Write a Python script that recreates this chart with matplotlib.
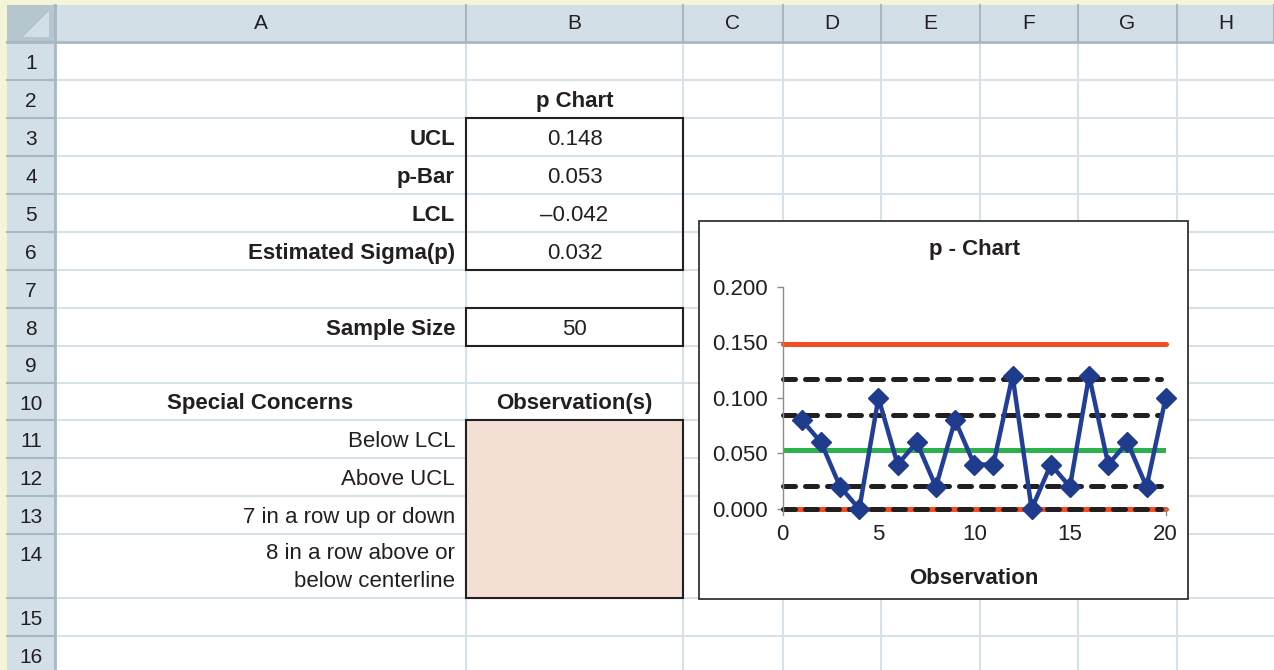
import numpy as np
import matplotlib.pyplot as plt
from matplotlib.patches import Rectangle, Polygon

plt.rcParams['font.family'] = ['Liberation Sans', 'DejaVu Sans']

# fraction defective for each observation (sample size 50)
obs = np.arange(1, 21)
p_obs = [0.08, 0.06, 0.02, 0.00, 0.10, 0.04, 0.06, 0.02, 0.08, 0.04,
         0.04, 0.12, 0.00, 0.04, 0.02, 0.12, 0.04, 0.06, 0.02, 0.10]

ucl = 0.148
p_bar = 0.053
lcl = -0.042
sigma_p = 0.032
sample_size = 50

col_letters = ['A', 'B', 'C', 'D', 'E', 'F', 'G', 'H']
row_numbers = [str(i) for i in range(1, 17)]

stat_labels = ['UCL', 'p-Bar', 'LCL', 'Estimated Sigma(p)']
stat_values = [ucl, p_bar, lcl, sigma_p]
concern_labels = ['Below LCL', 'Above UCL', '7 in a row up or down',
                  '8 in a row above or\nbelow centerline']

# sheet geometry in pixels
W, H = 1274, 670
col_edges = [55, 466, 683, 783, 881, 980, 1078, 1177, 1274]
row_edges = [42, 80, 118, 156, 194, 232, 270, 308, 346, 383, 420, 458,
             496, 534, 598, 636, 674]

HEAD_BG = '#d3dfe7'
HEAD_LINE = '#a8b8c3'
GRID = '#d6e2ea'
INK = '#231f20'

fig = plt.figure(figsize=(W / 100, H / 100), dpi=100)
fig.patch.set_facecolor('#f4f4d8')
bg = fig.add_axes([0, 0, 1, 1])
bg.set_xlim(0, W)
bg.set_ylim(H, 0)
bg.axis('off')

# cells and headers
bg.add_patch(Rectangle((55, 42), W - 55, H - 42, fc='white', ec='none'))
bg.add_patch(Rectangle((7, 5), W - 7, 37, fc=HEAD_BG, ec='none'))
bg.add_patch(Rectangle((7, 42), 48, H - 42, fc=HEAD_BG, ec='none'))
bg.add_patch(Rectangle((7, 5), 48, 37, fc='#b6c6cf', ec='none'))
bg.add_patch(Polygon([(49, 11), (49, 37), (23, 37)], fc=HEAD_BG, ec='none'))

for x in col_edges[1:-1]:
    bg.plot([x, x], [42, H], color=GRID, lw=1.5)
for y in row_edges:
    bg.plot([55, W], [y, y], color=GRID, lw=1.5)
for x in col_edges:
    bg.plot([x, x], [5, 42], color=HEAD_LINE, lw=1.5)
for y in row_edges:
    bg.plot([7, 55], [y, y], color=HEAD_LINE, lw=1.5)
bg.plot([7, W], [42, 42], color=HEAD_LINE, lw=2)
bg.plot([55, 55], [5, H], color=HEAD_LINE, lw=2)

for i, letter in enumerate(col_letters):
    xc = (col_edges[i] + col_edges[i + 1]) / 2
    bg.text(xc, 29, letter, ha='center', va='baseline', fontsize=15, color=INK)
for i, num in enumerate(row_numbers):
    top = row_edges[i]
    yb = min(top + 27, (top + row_edges[i + 1]) / 2 + 8)
    bg.text(31, yb, num, ha='center', va='baseline', fontsize=15, color=INK)

# bordered blocks in column B
bg.add_patch(Rectangle((466, 118), 217, 152, fill=False, ec=INK, lw=1.5, zorder=3))
bg.add_patch(Rectangle((466, 308), 217, 38, fill=False, ec=INK, lw=1.5, zorder=3))
bg.add_patch(Rectangle((466, 420), 217, 178, fc='#f3dfd4', ec=INK, lw=1.5, zorder=3))


def row_base(r):
    return (row_edges[r - 1] + row_edges[r]) / 2 + 8


xa_right = 455
xb_mid = (466 + 683) / 2
bg.text(xb_mid, row_base(2), 'p Chart', ha='center', va='baseline',
        fontsize=16, fontweight='bold', color=INK)
for k, (lab, val) in enumerate(zip(stat_labels, stat_values)):
    r = 3 + k
    bg.text(xa_right, row_base(r), lab, ha='right', va='baseline',
            fontsize=16, fontweight='bold', color=INK)
    bg.text(xb_mid, row_base(r), f'{val:.3f}'.replace('-', '\u2013'),
            ha='center', va='baseline', fontsize=16, color=INK)
bg.text(xa_right, row_base(8), 'Sample Size', ha='right', va='baseline',
        fontsize=16, fontweight='bold', color=INK)
bg.text(xb_mid, row_base(8), str(sample_size), ha='center', va='baseline',
        fontsize=16, color=INK)
bg.text(260, row_base(10), 'Special Concerns', ha='center', va='baseline',
        fontsize=16, fontweight='bold', color=INK)
bg.text(xb_mid, row_base(10), 'Observation(s)', ha='center', va='baseline',
        fontsize=16, fontweight='bold', color=INK)
for k, lab in enumerate(concern_labels):
    r = 11 + k
    yb = row_base(r) if r < 14 else row_edges[r - 1] + 25
    for j, line in enumerate(lab.split('\n')):
        bg.text(xa_right, yb + 28 * j, line, ha='right', va='baseline',
                fontsize=16, color=INK)

# chart object frame
bg.add_patch(Rectangle((699, 221), 489, 378, fc='white', ec='#333333',
                       lw=1.3, zorder=4))

# p chart
x0, x1 = 782.7, 1165.7
y0, y1 = 509, 286.7
ax = fig.add_axes([x0 / W, 1 - y0 / H, (x1 - x0) / W, (y0 - y1) / H])
ax.patch.set_alpha(0)
ax.set_xlim(0, 20)
ax.set_ylim(0, 0.2)

red = '#f04e23'
green = '#2bb24c'
blue = '#213f99'
lw = 3.6

ax.plot([0, 20], [ucl, ucl], color=red, lw=lw, solid_capstyle='round', clip_on=False)
ax.plot([0, 20], [max(lcl, 0), max(lcl, 0)], color=red, lw=lw,
        solid_capstyle='round', clip_on=False)
ax.plot([0, 20], [p_bar, p_bar], color=green, lw=lw, solid_capstyle='round')
for k in (1, 2):
    for s in (1, -1):
        v = max(p_bar + s * k * sigma_p, 0)
        ax.plot([0, 19.75], [v, v], color=INK, lw=lw, dashes=(2.4, 2.0),
                dash_capstyle='round', clip_on=False)
ax.plot(obs, p_obs, color=blue, lw=3.2, marker='D', ms=10, mfc='#1f3b8c',
        mec='#1f3b8c', clip_on=False, zorder=5)

ax.set_xticks([0, 5, 10, 15, 20])
ax.set_yticks([0, 0.05, 0.1, 0.15, 0.2])
ax.yaxis.set_major_formatter(plt.FuncFormatter(lambda v, _: f'{v:.3f}'))
ax.tick_params(axis='y', length=4.5, width=1, color='#8c8c8c', pad=6,
               labelsize=16, labelcolor=INK)
ax.tick_params(axis='x', length=0, pad=11, labelsize=16, labelcolor=INK)
for side in ('top', 'right', 'bottom'):
    ax.spines[side].set_visible(False)
ax.spines['left'].set_color('#8c8c8c')
ax.spines['left'].set_linewidth(1)
ax.spines['left'].set_bounds(-0.005, 0.2)
ax.plot([20, 20], [0, -0.005], color='#8c8c8c', lw=1, clip_on=False)

ax.set_title('p - Chart', fontsize=16, fontweight='bold', color=INK, pad=23)
ax.set_xlabel('Observation', fontsize=16, fontweight='bold', color=INK,
              labelpad=16)

fig.savefig('out.png', dpi=100, facecolor=fig.get_facecolor())
